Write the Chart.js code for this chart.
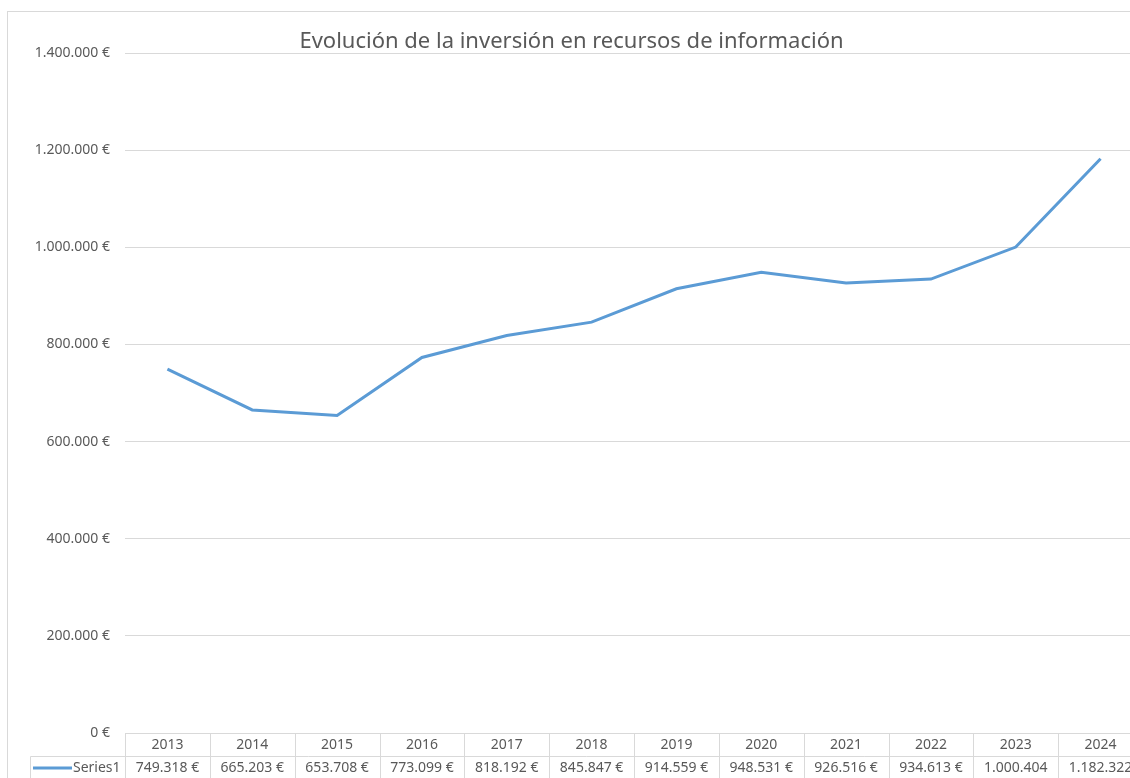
<!DOCTYPE html>
<html lang="es">
<head>
<meta charset="utf-8">
<title>Evolución de la inversión en recursos de información</title>
<script src="https://cdn.jsdelivr.net/npm/chart.js@4.4.1/dist/chart.umd.min.js"></script>
<style>
  html, body { margin: 0; padding: 0; background: #fff; overflow: hidden; }
  #wrap { position: absolute; left: 0; top: 0; width: 1150px; height: 790px; }
</style>
</head>
<body>
<div id="wrap"><canvas id="chart" width="1150" height="790"></canvas></div>
<script>
/* ================= DATOS ================= */
const years = ["2013", "2014", "2015", "2016", "2017", "2018", "2019", "2020", "2021", "2022", "2023", "2024"];
const inversion = [749318, 665203, 653708, 773099, 818192, 845847, 914559, 948531, 926516, 934613, 1000404, 1182322];
const seriesName = "Series1";
const chartTitle = "Evolución de la inversión en recursos de información";

/* ================= HELPERS ================= */
const GRAY = "#595959";
const GRID = "#d9d9d9";
const BLUE = "#5b9bd5";
const FONT = "'Noto Sans', 'Open Sans', sans-serif";

const miles = n => String(Math.round(n)).replace(/\B(?=(\d{3})+(?!\d))/g, ".");
const euros = n => miles(n) + " €";

/* ================= TABLA DE DATOS ================= */
const dataTable = {
  id: "dataTable",
  beforeDraw(chart) {
    const ctx = chart.ctx;
    ctx.save();
    ctx.strokeStyle = GRID;
    ctx.lineWidth = 1;
    ctx.strokeRect(7.5, 11.5, chart.width + 20, chart.height + 20);
    ctx.restore();
  },
  afterDraw(chart) {
    const ctx = chart.ctx;
    const area = chart.chartArea;
    const xs = chart.scales.x;
    const n = years.length;
    const w = (area.right - area.left) / n;
    const rowH = 23;
    const top = Math.round(area.bottom) + 0.5;

    ctx.save();
    ctx.strokeStyle = GRID;
    ctx.lineWidth = 1;
    ctx.beginPath();
    // filas
    ctx.moveTo(area.left, top);
    ctx.lineTo(area.right, top);
    ctx.moveTo(30.5, top + rowH);
    ctx.lineTo(area.right, top + rowH);
    ctx.moveTo(30.5, top + rowH * 2);
    ctx.lineTo(area.right, top + rowH * 2);
    // columnas
    for (let i = 0; i <= n; i++) {
      const cx = Math.round(area.left + i * w) + 0.5;
      ctx.moveTo(cx, top);
      ctx.lineTo(cx, top + rowH * 2);
    }
    ctx.moveTo(30.5, top + rowH);
    ctx.lineTo(30.5, top + rowH * 2);
    ctx.stroke();

    // leyenda de la serie
    ctx.strokeStyle = BLUE;
    ctx.lineWidth = 3;
    ctx.beginPath();
    ctx.moveTo(33, top + rowH * 1.5);
    ctx.lineTo(72, top + rowH * 1.5);
    ctx.stroke();

    ctx.fillStyle = GRAY;
    ctx.font = "14px " + FONT;
    ctx.textBaseline = "middle";
    ctx.textAlign = "left";
    ctx.fillText(seriesName, 73, top + rowH * 1.5);

    ctx.textAlign = "center";
    years.forEach((y, i) => {
      const cx = xs.getPixelForValue(i);
      ctx.fillText(y, cx, top + rowH * 0.5);
      let txt = euros(inversion[i]);
      if (ctx.measureText(txt).width > w - 15) txt = miles(inversion[i]);
      ctx.fillText(txt, cx, top + rowH * 1.5);
    });
    ctx.restore();
  }
};

/* ================= GRAFICA ================= */
new Chart(document.getElementById("chart"), {
  type: "line",
  data: {
    labels: years,
    datasets: [{
      label: seriesName,
      data: inversion,
      borderColor: BLUE,
      borderWidth: 3,
      pointRadius: 0,
      tension: 0,
      fill: false
    }]
  },
  options: {
    responsive: false,
    animation: false,
    layout: { padding: { left: 0, right: 7, top: 0, bottom: 57 } },
    plugins: {
      legend: { display: false },
      tooltip: { enabled: false },
      title: {
        display: true,
        text: chartTitle,
        color: GRAY,
        font: { family: FONT, size: 22, weight: "normal", lineHeight: 1 },
        padding: { top: 31, bottom: 0 }
      }
    },
    scales: {
      x: {
        type: "category",
        offset: true,
        display: false
      },
      y: {
        min: 0,
        max: 1400000,
        afterFit: s => { s.width = 125; },
        ticks: {
          stepSize: 200000,
          color: GRAY,
          padding: 15,
          font: { family: FONT, size: 14 },
          callback: v => euros(v)
        },
        grid: { color: GRID, drawTicks: false },
        border: { display: false }
      }
    }
  },
  plugins: [dataTable]
});
</script>
</body>
</html>
